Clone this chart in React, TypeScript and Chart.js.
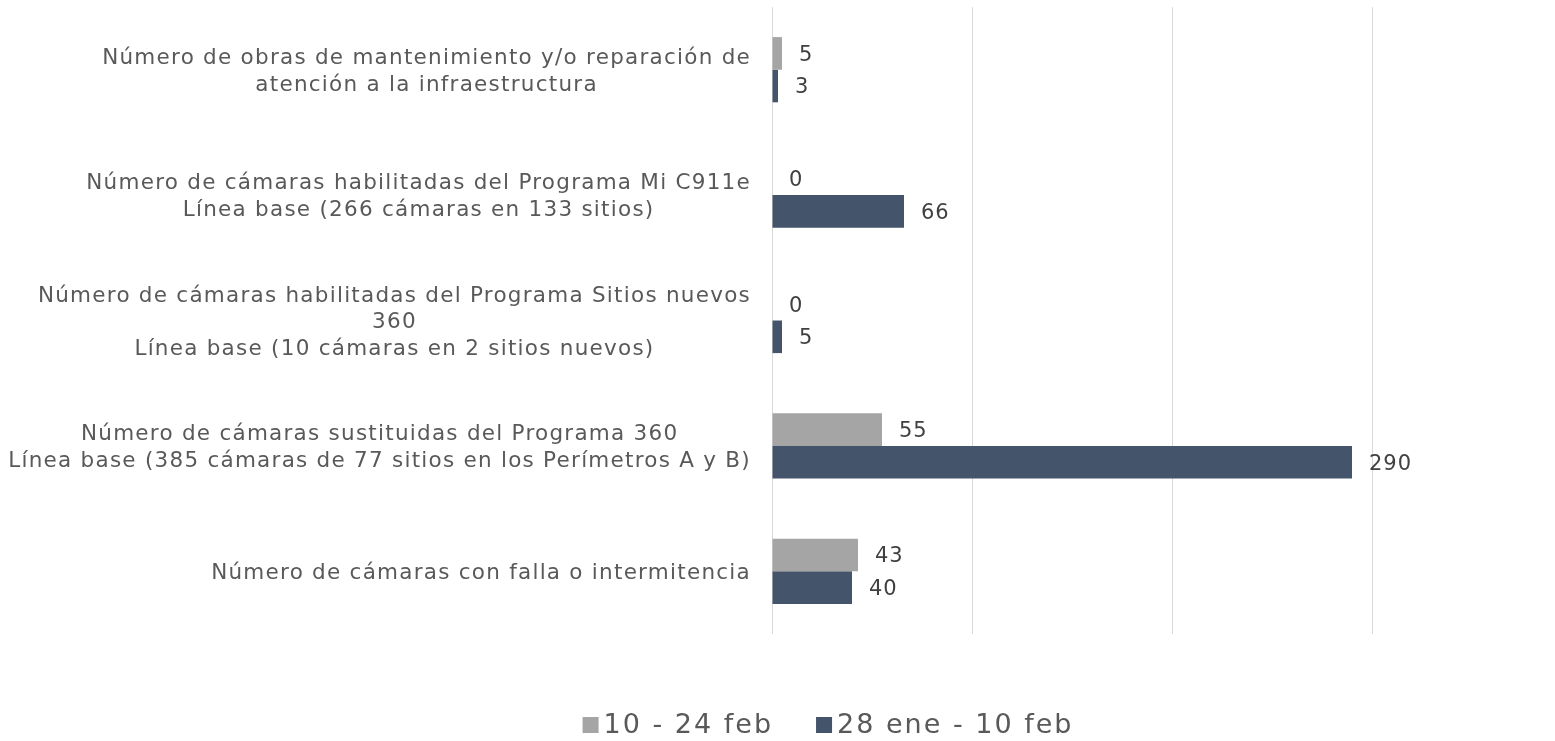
import React, { useEffect, useRef } from "react";
import { Chart, registerables } from "chart.js";

Chart.register(...registerables);

const categories: string[][] = [
  ["Número de obras de mantenimiento y/o reparación de", "atención a la infraestructura"],
  ["Número de cámaras habilitadas del Programa Mi C911e", "Línea base (266 cámaras en 133 sitios)"],
  ["Número de cámaras habilitadas del Programa Sitios nuevos", "360", "Línea base (10 cámaras en 2 sitios nuevos)"],
  ["Número de cámaras sustituidas del Programa 360", "Línea base (385 cámaras de 77 sitios en los Perímetros A y B)"],
  ["Número de cámaras con falla o intermitencia"],
];
const seriesNames = ["10 - 24 feb", "28 ene - 10 feb"];
const series1 = [5, 0, 0, 55, 43];
const series2 = [3, 66, 5, 290, 40];
const seriesColors = ["#A5A5A5", "#44546A"];
const xMax = 300;

const FONT = "'DejaVu Sans', sans-serif";

const customDraw = {
  id: "customDraw",
  afterDatasetsDraw(chart: any) {
    const ctx = chart.ctx;
    const area = chart.chartArea;
    const yScale = chart.scales.y;
    ctx.save();
    // category labels
    ctx.font = `21.5px ${FONT}`;
    (ctx as any).letterSpacing = "1.25px";
    ctx.fillStyle = "#595959";
    ctx.textBaseline = "middle";
    ctx.textAlign = "center";
    const lh = 26.5;
    categories.forEach((lines, i) => {
      const cy = yScale.getPixelForValue(i) + 2;
      const w = Math.max(...lines.map((l) => ctx.measureText(l).width));
      const right = area.left - 21;
      const cx = right - w / 2;
      const top = cy - ((lines.length - 1) * lh) / 2;
      lines.forEach((l, j) => ctx.fillText(l, cx, top + j * lh));
    });
    // data labels
    ctx.font = `21px ${FONT}`;
    (ctx as any).letterSpacing = "1px";
    ctx.fillStyle = "#404040";
    ctx.textAlign = "left";
    chart.data.datasets.forEach((ds: any, di: number) => {
      const meta = chart.getDatasetMeta(di);
      meta.data.forEach((bar: any, i: number) => {
        ctx.fillText(String(ds.data[i]), bar.x + 17, bar.y + 2);
      });
    });
    // legend
    ctx.font = `27px ${FONT}`;
    (ctx as any).letterSpacing = "2px";
    ctx.fillStyle = "#595959";
    ctx.textBaseline = "middle";
    const box = 16;
    const gap = 5;
    const itemGap = 43;
    const widths = seriesNames.map((n) => box + gap + ctx.measureText(n).width);
    const total = widths.reduce((a, b) => a + b, 0) + itemGap;
    let x = 828 - total / 2;
    const ly = 725;
    seriesNames.forEach((n, i) => {
      ctx.fillStyle = seriesColors[i];
      ctx.fillRect(x, ly - box / 2, box, box);
      ctx.fillStyle = "#595959";
      ctx.fillText(n, x + box + gap, ly + 1);
      x += widths[i] + itemGap;
    });
    ctx.restore();
  },
};

export default function App() {
  const ref = useRef<HTMLCanvasElement>(null);
  useEffect(() => {
    document.body.style.margin = "0";
    const chart = new Chart(ref.current!, {
      type: "bar",
      data: {
        labels: categories.map((c) => c.join(" ")),
        datasets: [
          { label: seriesNames[0], data: series1, backgroundColor: seriesColors[0] },
          { label: seriesNames[1], data: series2, backgroundColor: seriesColors[1] },
        ],
      },
      options: {
        indexAxis: "y",
        animation: false,
        responsive: false,
        layout: { padding: { left: 0, right: 183, top: 7, bottom: 107 } },
        datasets: { bar: { categoryPercentage: 0.52, barPercentage: 1 } },
        plugins: { legend: { display: false }, tooltip: { enabled: false } },
        scales: {
          x: {
            min: 0,
            max: xMax,
            ticks: { display: false, stepSize: 100 },
            grid: { color: "#D9D9D9", lineWidth: 1, drawTicks: false },
            border: { display: false },
            afterFit: (s: any) => { s.height = 0; },
          },
          y: {
            ticks: { display: false },
            grid: { display: false, drawTicks: false },
            border: { display: false },
            afterFit: (s: any) => { s.width = 772; },
          },
        },
      },
      plugins: [customDraw],
    });
    return () => chart.destroy();
  }, []);
  return (
    <div style={{ width: 1555, height: 741 }}>
      <canvas ref={ref} width={1555} height={741} style={{ display: "block" }} />
    </div>
  );
}
